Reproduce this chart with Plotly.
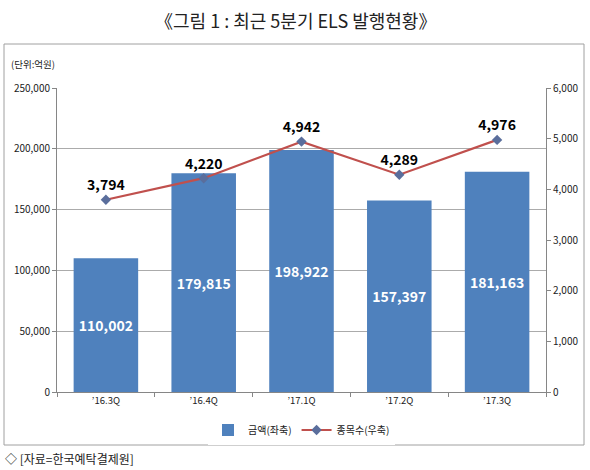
import plotly.graph_objects as go

# data
quarters = ["’16.3Q", "’16.4Q", "’17.1Q", "’17.2Q", "’17.3Q"]
amount = [110002, 179815, 198922, 157397, 181163]   # 금액(좌축), 억원
count = [3794, 4220, 4942, 4289, 4976]              # 종목수(우축)

KR = "Noto Sans CJK KR"
W, H = 590, 470
L, R, T, B = 57, 44, 88, 78


def px(x):
    return (x - L) / (W - L - R)


def py(y):
    return (H - B - y) / (H - T - B)


fig = go.Figure()

fig.add_trace(go.Bar(
    x=quarters, y=amount,
    name="금액(좌축)",
    marker_color="#4F81BD",
    marker_line_width=0,
    text=[f"{v:,}" for v in amount],
    textposition="inside",
    insidetextanchor="middle",
    textfont=dict(family=KR, size=14, color="white", weight="bold"),
    cliponaxis=False,
))

fig.add_trace(go.Scatter(
    x=quarters, y=count,
    yaxis="y2",
    name="종목수(우축)",
    mode="lines+markers+text",
    line=dict(color="#C0504D", width=2.2),
    marker=dict(symbol="diamond", size=8, color="#5A6E9C"),
    text=[f"{v:,}" for v in count],
    textposition="top center",
    textfont=dict(family=KR, size=14, color="black", weight="bold"),
    cliponaxis=False,
))

fig.update_layout(
    width=W, height=H,
    margin=dict(l=L, r=R, t=T, b=B, autoexpand=False),
    paper_bgcolor="white", plot_bgcolor="white",
    font=dict(family=KR, size=10, color="#222"),
    bargap=0.34,
    showlegend=True,
    legend=dict(orientation="h", x=0.5, xanchor="center", y=py(430), yanchor="middle",
                font=dict(family=KR, size=10), traceorder="normal",
                itemwidth=30, tracegroupgap=0),
    xaxis=dict(
        showline=True, linecolor="#868686", linewidth=1,
        ticks="outside", ticklen=4, tickcolor="#868686", tickson="boundaries",
        tickfont=dict(family=KR, size=9.5), automargin=False,
    ),
    yaxis=dict(
        range=[0, 250000], dtick=50000, tickformat=",d",
        showgrid=True, gridcolor="#ABABAB", gridwidth=1,
        showline=True, linecolor="#868686", linewidth=1,
        ticks="outside", ticklen=4, tickcolor="#868686",
        tickfont=dict(family=KR, size=10), zeroline=False, automargin=False,
    ),
    yaxis2=dict(
        range=[0, 6000], dtick=1000, tickformat=",d",
        overlaying="y", side="right", showgrid=False,
        showline=True, linecolor="#868686", linewidth=1,
        ticks="outside", ticklen=4, tickcolor="#868686",
        tickfont=dict(family=KR, size=10), zeroline=False, automargin=False,
    ),
    shapes=[dict(
        type="rect", xref="paper", yref="paper",
        x0=px(4), x1=px(584), y0=py(445), y1=py(44),
        line=dict(color="#A0A0A0", width=1), fillcolor="rgba(0,0,0,0)",
        layer="below",
    )],
    annotations=[
        dict(text="《그림 1 : 최근 5분기 ELS 발행현황》", xref="paper", yref="paper",
             x=px(295), y=py(20), xanchor="center", yanchor="middle", showarrow=False,
             font=dict(family=KR, size=18, color="#222")),
        dict(text="(단위:억원)", xref="paper", yref="paper",
             x=px(9), y=py(64), xanchor="left", yanchor="middle", showarrow=False,
             font=dict(family=KR, size=9.5, color="#222")),
        dict(text="◇ [자료=한국예탁결제원]", xref="paper", yref="paper",
             x=px(3), y=py(458), xanchor="left", yanchor="middle", showarrow=False,
             font=dict(family=KR, size=12, color="#222")),
    ],
)

fig.write_html("out.html", config={"displayModeBar": False},
               post_script="document.body.style.margin='0';")
